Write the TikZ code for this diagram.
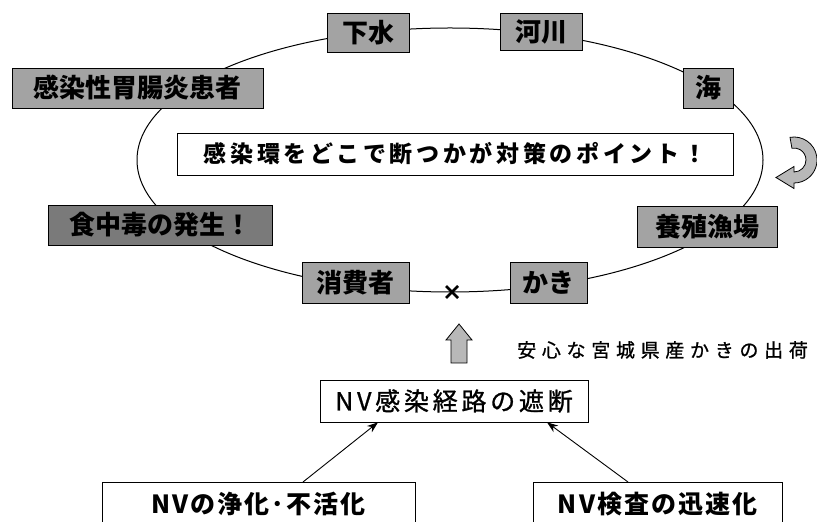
\documentclass[tikz,border=0pt]{standalone}
\usepackage{fontspec}
\setmainfont{Noto Sans CJK JP}
\usetikzlibrary{arrows.meta,calc}
\tikzset{
  lbl/.style={draw=black, line width=0.8pt, fill=black!36, inner sep=0pt, text=black,
    font=\fontsize{26}{30}\selectfont\bfseries},
  lbldark/.style={lbl, fill=black!52},
  plainbox/.style={draw=black, line width=0.7pt, fill=white, inner sep=0pt},
  thinarrow/.style={-{Stealth[length=11pt,width=8pt]}, line width=0.9pt},
  loopline/.style={line width=1pt},
  blockarrow/.style={fill=black!28, draw=black, line width=0.8pt},
}
\begin{document}
\begin{tikzpicture}[x=1pt,y=1pt]
\useasboundingbox (0,0) rectangle (817,522);
\clip (0,0) rectangle (817,522);

% infection cycle
\draw[loopline] (450,362) ellipse [x radius=313pt, y radius=132pt];

\node[lbl, minimum width=82, minimum height=39] (gesui) at (368,489.5) {下水};
\node[lbl, minimum width=82, minimum height=37] (kasen) at (541,490.5) {河川};
\node[lbl, minimum width=50, minimum height=40] (umi) at (708,434) {海};
\node[lbl, minimum width=251, minimum height=40] (kanja) at (137.5,434) {感染性胃腸炎患者};
\node[lbldark, minimum width=224, minimum height=40] (shokuchu) at (160,297) {食中毒の発生！};
\node[lbl, minimum width=140, minimum height=41] (yoshoku) at (707,295.5) {養殖漁場};
\node[lbl, minimum width=107, minimum height=41] (shohi) at (355.5,239.5) {消費者};
\node[lbl, minimum width=77, minimum height=41] (kaki) at (548.5,239.5) {かき};

\node[plainbox, minimum width=556, minimum height=42,
  font=\fontsize{23}{28}\selectfont\bfseries\addfontfeature{LetterSpace=16}] (point) at (455,368)
  {感染環をどこで断つかが対策のポイント！};

% cut mark
\coordinate (cut) at (452,230);
\draw[line width=2.6pt] ($(cut)+(-6,-6)$) -- ($(cut)+(6,6)$);
\draw[line width=2.6pt] ($(cut)+(-6,6)$) -- ($(cut)+(6,-6)$);

% rotation arrow
\filldraw[blockarrow] (790.01,384.65) arc[start angle=100, end angle=-90, radius=23pt]
  -- (794,333.5) -- (776,344.5) -- (794,355.5) -- (794,350)
  arc[start angle=-90, end angle=100, radius=12pt] -- cycle;

% up arrow
\filldraw[blockarrow] (459,198) -- (472,182) -- (467,182) -- (467,159) -- (451,159)
  -- (451,182) -- (446,182) -- cycle;

\node[anchor=west, inner sep=0pt,
  font=\fontsize{19}{22}\selectfont\addfontfeature{LetterSpace=30,FakeBold=1}] (ship) at (517,172)
  {安心な宮城県産かきの出荷};

\node[plainbox, minimum width=268, minimum height=42,
  font=\fontsize{25}{30}\selectfont\addfontfeature{LetterSpace=15,FakeBold=1}] (route) at (454,121)
  {NV感染経路の遮断};

\node[plainbox, minimum width=313, minimum height=44, anchor=north,
  font=\fontsize{25}{30}\selectfont\bfseries\addfontfeature{LetterSpace=8}] (jouka) at (258.5,40)
  {NVの浄化･不活化};
\node[plainbox, minimum width=249, minimum height=44, anchor=north,
  font=\fontsize{25}{30}\selectfont\bfseries\addfontfeature{LetterSpace=8}] (kensa) at (657.5,40)
  {NV検査の迅速化};

\draw[thinarrow] ([xshift=44.5]jouka.north) -- ([xshift=-76]route.south);
\draw[thinarrow] ([xshift=-29.5]kensa.north) -- ([xshift=93]route.south);
\end{tikzpicture}
\end{document}
